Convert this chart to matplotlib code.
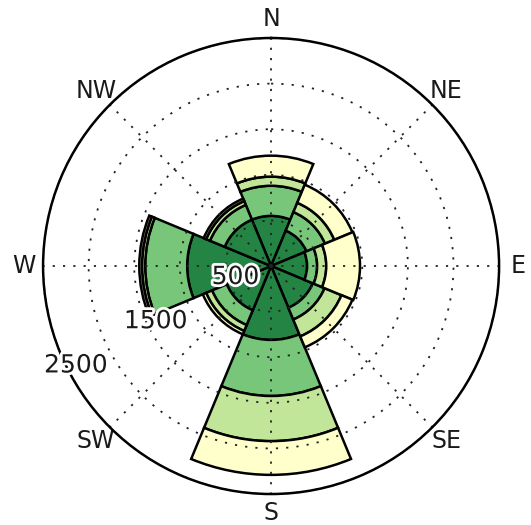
import numpy as np
import matplotlib
matplotlib.use("Agg")
import matplotlib.pyplot as plt
import matplotlib.patheffects as pe

# Wind directions (compass, clockwise from north)
directions = ["N", "NE", "E", "SE", "S", "SW", "W", "NW"]
direction_deg = [0, 45, 90, 135, 180, 225, 270, 315]

# Counts per speed class for each direction
speed_bin_1 = [550, 420, 395, 495, 810, 525, 920, 550]
speed_bin_2 = [330, 220, 110, 140, 615, 175, 460, 175]
speed_bin_3 = [100, 110, 100, 200, 495, 70, 35, 45]
speed_bin_4 = [230, 215, 370, 130, 370, 40, 30, 30]

bin_colors = ["#238443", "#78c679", "#c2e699", "#ffffcc"]

radial_ticks = [500, 1000, 1500, 2000, 2500]
radial_labels = ["500", "", "1500", "", "2500"]
r_max = 2500

fig = plt.figure(figsize=(5.31, 5.25), dpi=100)
ax = fig.add_axes([0.081, 0.059, 0.859, 0.8686], projection="polar")
ax.set_theta_zero_location("N")
ax.set_theta_direction(-1)

theta = np.deg2rad(direction_deg)
width = 2 * np.pi / len(directions)
bottom = np.zeros(len(directions))
for values, color in zip([speed_bin_1, speed_bin_2, speed_bin_3, speed_bin_4], bin_colors):
    values = np.asarray(values, dtype=float)
    ax.bar(theta, values, width=width, bottom=bottom, color=color,
           edgecolor="black", linewidth=1.8, align="center")
    bottom += values

ax.set_ylim(0, r_max)
ax.set_thetagrids(direction_deg, directions, fontsize=17)
ax.tick_params(axis="x", pad=3.5, colors="#1a1a1a")
ax.set_rgrids(radial_ticks, labels=[""] * len(radial_ticks))

grid_style = dict(color="#222222", linewidth=1.3, linestyle=(0, (1.2, 4.5)))
ax.grid(True, **grid_style)
ax.spines["polar"].set_linewidth(1.8)
ax.spines["polar"].set_color("black")

# Radial labels along a fixed bearing, lifted slightly above their ring
label_bearing = np.deg2rad(241)
for r, text in zip(radial_ticks, radial_labels):
    if not text:
        continue
    ax.annotate(text, xy=(label_bearing, r), xytext=(3, 8),
                textcoords="offset points", ha="center", va="center",
                fontsize=18, color="#1a1a1a", zorder=5,
                path_effects=[pe.withStroke(linewidth=4, foreground="white")])

fig.savefig("out.png", dpi=100)
